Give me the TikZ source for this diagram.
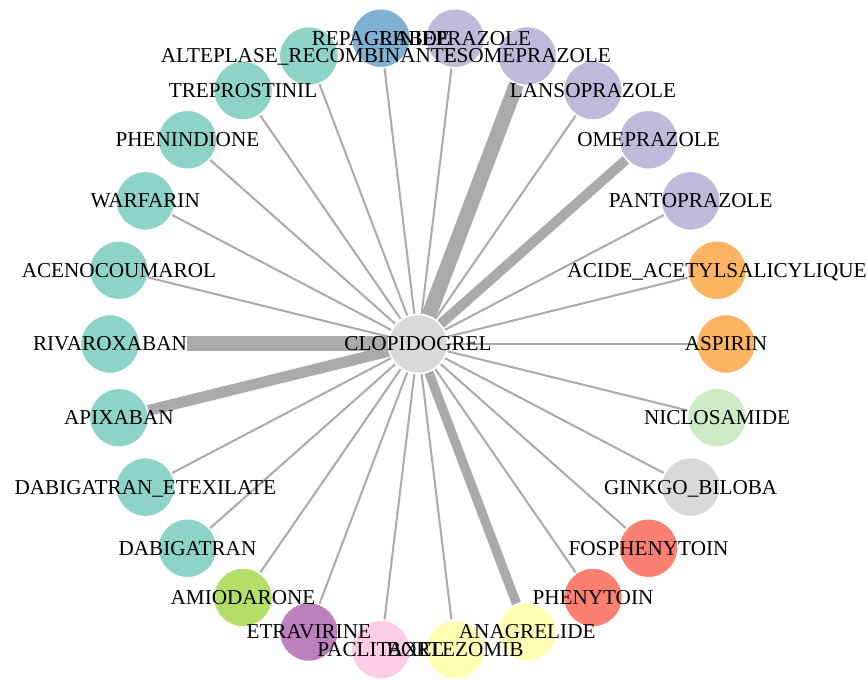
\documentclass[tikz,border=0pt]{standalone}
\usepackage{fontspec}
\setmainfont{Liberation Serif}
\usetikzlibrary{calc}
\pgfdeclarelayer{edges}
\pgfdeclarelayer{labels}
\pgfsetlayers{edges,main,labels}
\definecolor{teal3}{HTML}{8DD3C7}
\definecolor{blue3}{HTML}{80B1D3}
\definecolor{lav3}{HTML}{BEBADA}
\definecolor{orange3}{HTML}{FDB462}
\definecolor{lgreen3}{HTML}{CCEBC5}
\definecolor{gray3}{HTML}{D9D9D9}
\definecolor{salmon3}{HTML}{FB8072}
\definecolor{yellow3}{HTML}{FFFFB3}
\definecolor{pink3}{HTML}{FCCDE5}
\definecolor{purple3}{HTML}{BC80BD}
\definecolor{ygreen3}{HTML}{B3DE69}
\definecolor{edgegray}{HTML}{AAAAAA}
\tikzset{
  dot/.style={circle, draw=white, line width=1.125pt, inner sep=0pt, minimum size=44.25pt},
  lbl/.style={anchor=base, inner sep=0pt, text=black, font=\fontsize{15.9}{18}\selectfont},
  edge/.style={draw=edgegray, line width=1.5pt},
  w15/.style={edge, line width=11.25pt},
  w11/.style={edge, line width=8.25pt},
  w10/.style={edge, line width=7.5pt},
  w9/.style={edge, line width=7pt},
}
\newcommand\mydrug[6]{%
  \node[dot, fill=#4] (#1) at (#2,#3) {};
  \begin{pgfonlayer}{labels}\node[lbl] (#1-l) at ([yshift=-5.2pt]#1.center) {#5};\end{pgfonlayer}
  \begin{pgfonlayer}{edges}\draw[#6] (clop) -- (#1);\end{pgfonlayer}
}
\begin{document}
\begin{tikzpicture}[x=0.75pt, y=-0.75pt]
\begin{pgfonlayer}{edges}
\fill[white] (0,0) rectangle (867,680);
\end{pgfonlayer}
\useasboundingbox (0,0) rectangle (867,680);
\node[dot, fill=gray3] (clop) at (418,344) {};
\begin{pgfonlayer}{labels}\node[lbl] (clop-l) at ([yshift=-5.2pt]clop.center) {CLOPIDOGREL};\end{pgfonlayer}
\mydrug{aspirin}{726}{344}{orange3}{ASPIRIN}{edge}
\mydrug{acide}{717.05}{270.29}{orange3}{ACIDE\_ACETYLSALICYLIQUE}{edge}
\mydrug{panto}{690.72}{200.87}{lav3}{PANTOPRAZOLE}{edge}
\mydrug{omep}{648.54}{139.76}{lav3}{OMEPRAZOLE}{w10}
\mydrug{lanso}{592.96}{90.52}{lav3}{LANSOPRAZOLE}{edge}
\mydrug{esome}{527.22}{56.01}{lav3}{ESOMEPRAZOLE}{w15}
\mydrug{rabe}{455.13}{38.25}{lav3}{RABEPRAZOLE}{edge}
\mydrug{repag}{380.87}{38.25}{blue3}{REPAGLINIDE}{edge}
\mydrug{altep}{308.78}{56.01}{teal3}{ALTEPLASE\_RECOMBINANTE}{edge}
\mydrug{trepro}{243.04}{90.52}{teal3}{TREPROSTINIL}{edge}
\mydrug{phenind}{187.46}{139.76}{teal3}{PHENINDIONE}{edge}
\mydrug{warf}{145.28}{200.87}{teal3}{WARFARIN}{edge}
\mydrug{aceno}{118.95}{270.29}{teal3}{ACENOCOUMAROL}{edge}
\mydrug{rivar}{110}{344}{teal3}{RIVAROXABAN}{w15, shorten >=34.9pt}
\mydrug{nicl}{717.05}{417.71}{lgreen3}{NICLOSAMIDE}{edge}
\mydrug{ginkgo}{690.72}{487.13}{gray3}{GINKGO\_BILOBA}{edge}
\mydrug{fosph}{648.54}{548.24}{salmon3}{FOSPHENYTOIN}{edge}
\mydrug{pheny}{592.96}{597.48}{salmon3}{PHENYTOIN}{edge}
\mydrug{anag}{527.22}{631.99}{yellow3}{ANAGRELIDE}{w9}
\mydrug{bort}{455.13}{649.75}{yellow3}{BORTEZOMIB}{edge}
\mydrug{pacli}{380.87}{649.75}{pink3}{PACLITAXEL}{edge}
\mydrug{etrav}{308.78}{631.99}{purple3}{ETRAVIRINE}{edge}
\mydrug{amio}{243.04}{597.48}{ygreen3}{AMIODARONE}{edge}
\mydrug{dabig}{187.46}{548.24}{teal3}{DABIGATRAN}{edge}
\mydrug{dabigetex}{145.28}{487.13}{teal3}{DABIGATRAN\_ETEXILATE}{edge}
\mydrug{apix}{118.95}{417.71}{teal3}{APIXABAN}{w11}
\end{tikzpicture}
\end{document}
